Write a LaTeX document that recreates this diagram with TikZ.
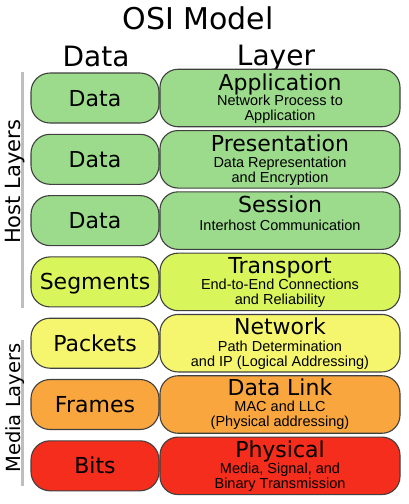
\documentclass[tikz,border=0pt]{standalone}
\usepackage{fontspec}
\setmainfont{DejaVu Sans}
\newfontfamily\subfont{Liberation Sans}
\usepackage{tikz}
\usetikzlibrary{calc,positioning}
\definecolor{hostgreen}{RGB}{155,219,139}
\definecolor{transgreen}{RGB}{216,245,92}
\definecolor{netyellow}{RGB}{246,246,110}
\definecolor{linkorange}{RGB}{249,166,62}
\definecolor{physred}{RGB}{245,45,28}
\definecolor{boxline}{RGB}{64,64,64}
\definecolor{sidegray}{RGB}{190,190,190}
\tikzset{
node distance=11.3pt, % gap between two rows
databox/.style={draw=boxline, line width=1.1pt, rounded corners=19pt, outer sep=0pt,
  minimum width=128pt, minimum height=50pt, text height=16pt, text depth=0pt,
  font=\fontsize{22}{24}\selectfont}, % left column
layerbox/.style={draw=boxline, line width=1.1pt, rounded corners=18pt, outer sep=0pt,
  minimum width=240pt, minimum height=57.5pt}, % right column
laytitle/.style={anchor=base, inner sep=0pt, font=\fontsize{22}{24}\selectfont},
laysub/.style={anchor=north, inner sep=0pt, align=center, font=\subfont\fontsize{14.5}{15}\selectfont},
headtext/.style={anchor=base, inner sep=0pt, font=\fontsize{28}{30}\selectfont},
sidebar/.style={draw=sidegray, line width=3pt},
sidetext/.style={anchor=base, rotate=90, inner sep=0pt},
}

\begin{document}
\begin{tikzpicture}[x=1pt,y=-1pt]
   \useasboundingbox (0,0) rectangle (408,504);
   % title and column heads
   \node[anchor=base, inner sep=0pt, font=\fontsize{30}{32}\selectfont] (title) at (198,29) {OSI Model};
   \node[headtext] (head_data) at (96,66) {Data};
   \node[headtext] (head_layer) at (276,65) {Layer};

   % data column
   \node[databox, fill=hostgreen] (d_1) at (95,98) {Data};
   \node[databox, fill=hostgreen] (d_2) [below=of d_1] {Data};
   \node[databox, fill=hostgreen] (d_3) [below=of d_2] {Data};
   \node[databox, fill=transgreen] (d_4) [below=of d_3] {Segments};
   \node[databox, fill=netyellow] (d_5) [below=of d_4] {Packets};
   \node[databox, fill=linkorange] (d_6) [below=of d_5] {Frames};
   \node[databox, fill=physred] (d_7) [below=of d_6] {Bits};

   % layer column
   \node[layerbox, fill=hostgreen] (l_1) [right=1pt of d_1] {};
   \node[layerbox, fill=hostgreen] (l_2) [right=1pt of d_2] {};
   \node[layerbox, fill=hostgreen] (l_3) [right=1pt of d_3] {};
   \node[layerbox, fill=transgreen] (l_4) [right=1pt of d_4] {};
   \node[layerbox, fill=netyellow] (l_5) [right=1pt of d_5] {};
   \node[layerbox, fill=linkorange] (l_6) [right=1pt of d_6] {};
   \node[layerbox, fill=physred] (l_7) [right=1pt of d_7] {};

   \node[laytitle] (t_1) at ($(l_1.north)+(0,21)$) {Application};
   \node[laysub] (s_1) at ($(l_1.north)+(0,26)$) {Network Process to\\Application};
   \node[laytitle] (t_2) at ($(l_2.north)+(0,21)$) {Presentation};
   \node[laysub] (s_2) at ($(l_2.north)+(0,26)$) {Data Representation\\and Encryption};
   \node[laytitle] (t_3) at ($(l_3.north)+(0,21)$) {Session};
   \node[laysub] (s_3) at ($(l_3.north)+(0,27.5)$) {Interhost Communication};
   \node[laytitle] (t_4) at ($(l_4.north)+(0,20.5)$) {Transport};
   \node[laysub] (s_4) at ($(l_4.north)+(0,26)$) {End-to-End Connections\\and Reliability};
   \node[laytitle] (t_5) at ($(l_5.north)+(0,20.5)$) {Network};
   \node[laysub] (s_5) at ($(l_5.north)+(0,26)$) {Path Determination\\and IP (Logical Addressing)};
   \node[laytitle] (t_6) at ($(l_6.north)+(0,20)$) {Data Link};
   \node[laysub] (s_6) at ($(l_6.north)+(0,25.5)$) {MAC and LLC\\(Physical addressing)};
   \node[laytitle] (t_7) at ($(l_7.north)+(0,20)$) {Physical};
   \node[laysub] (s_7) at ($(l_7.north)+(0,25.5)$) {Media, Signal, and\\Binary Transmission};

   % host / media brackets
   \coordinate (host_top) at (22,72);
   \coordinate (host_bot) at (22,308);
   \coordinate (media_top) at (22,340);
   \coordinate (media_bot) at (22,486);
   \draw[sidebar] (host_top) -- (host_bot);
   \draw[sidebar] (media_top) -- (media_bot);
   \node[sidetext, font=\fontsize{21}{24}\selectfont] (host) at (20,182) {Host Layers};
   \node[sidetext, font=\fontsize{19.5}{22}\selectfont] (media) at (20,408) {Media Layers};
\end{tikzpicture}
\end{document}
